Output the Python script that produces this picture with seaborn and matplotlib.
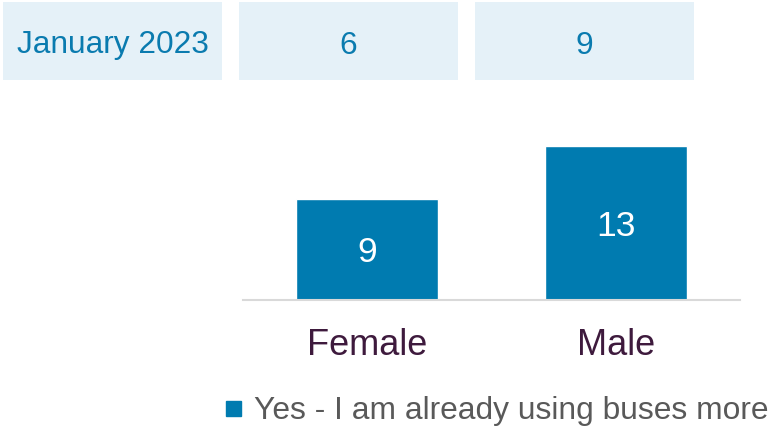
import matplotlib
matplotlib.use("Agg")
import matplotlib.pyplot as plt
from matplotlib.patches import Rectangle
from matplotlib.lines import Line2D
import seaborn as sns

# ---- data ----
header_labels = ["January 2023", "6", "9"]
categories = ["Female", "Male"]
values = [9, 13]
series_name = "Yes - I am already using buses more"

# ---- style ----
sns.set_theme(style="white")
plt.rcParams['font.family'] = ['Liberation Sans', 'DejaVu Sans']

BLUE = "#007BB0"
BOX = "#E5F1F8"
BOXTXT = "#0A7BAF"
CAT = "#3E1A3D"
LEG = "#595959"

W, H = 777, 429
fig = plt.figure(figsize=(W / 100, H / 100), dpi=100)
fig.patch.set_facecolor("white")

# header boxes (pixel extents converted to figure fraction)
box_px = [(3, 222), (239, 458), (475, 694)]
by0, by1 = 2, 80
for (x0, x1), lab in zip(box_px, header_labels):
    fig.patches.append(Rectangle((x0 / W, 1 - by1 / H), (x1 - x0) / W, (by1 - by0) / H,
                                 transform=fig.transFigure, facecolor=BOX, edgecolor="none"))
    fig.text((x0 + x1) / 2 / W, 1 - 42 / H, lab, ha="center", va="center_baseline",
             fontsize=22.8, color=BOXTXT)

# bar axes
ax_l, ax_r, ax_b, ax_t = 243, 740, 300, 139
ax = fig.add_axes([ax_l / W, 1 - ax_b / H, (ax_r - ax_l) / W, (ax_b - ax_t) / H])
ax.set_facecolor("white")
sns.barplot(x=categories, y=values, color=BLUE, saturation=1, width=0.57, ax=ax)
ymin, ymax = 1.42, 13.5
ax.set_ylim(ymin, ymax)
ax.set_xlim(-0.5, 1.5)

for i, v in enumerate(values):
    ax.text(i, (ymin + v) / 2, str(v), ha="center", va="center_baseline",
            fontsize=25.5, color="white")

for s in ["top", "left", "right"]:
    ax.spines[s].set_visible(False)
ax.spines["bottom"].set_color("#D9D9D9")
ax.spines["bottom"].set_linewidth(1.5)
ax.set_yticks([])
ax.set_xlabel("")
ax.set_ylabel("")
ax.tick_params(axis="x", length=0, pad=20, labelsize=26, labelcolor=CAT)

# legend
handle = Line2D([], [], marker="s", linestyle="none", markersize=10.8,
                markerfacecolor=BLUE, markeredgecolor=BLUE)
fig.legend([handle], [series_name], loc="center left",
           bbox_to_anchor=(222 / W, 1 - 411 / H), frameon=False,
           fontsize=22.9, labelcolor=LEG, handlelength=0.7, handletextpad=0.3,
           borderpad=0, borderaxespad=0)

fig.savefig("out.png", dpi=100, facecolor="white")
